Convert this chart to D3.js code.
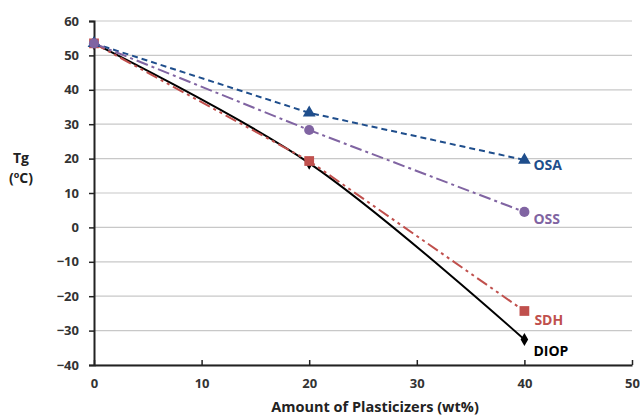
<!DOCTYPE html>
<html>
<head>
<meta charset="utf-8">
<script src="https://cdn.jsdelivr.net/npm/d3@7"></script>
<style>
  body { margin: 0; background: #fff; }
  svg text { font-family: "Open Sans", sans-serif; font-weight: 700; }
</style>
</head>
<body>
<svg id="chart"></svg>
<script>
var width = 640, height = 418

// data
var amounts = [0, 20, 40]
var osa  = [53.5, 33.3, 19.6]
var oss  = [53.5, 28.3, 4.5]
var sdh  = [53.5, 19.3, -24.3]
var diop = [53.5, 18.7, -32.6]
var xTicks = [0, 10, 20, 30, 40, 50]
var yTicks = [-40, -30, -20, -10, 0, 10, 20, 30, 40, 50, 60]

var series = [
  { name: "DIOP", values: diop, color: "#000000", dash: null, shape: d3.symbolDiamond, size: 50, smooth: true, labelColor: "#000" },
  { name: "SDH", values: sdh, color: "#c0504d", dash: "12,4,3,4,3,4", shape: d3.symbolSquare, size: 95, labelColor: "#c0504d" },
  { name: "OSA", values: osa, color: "#1f4e8c", dash: "6,4", shape: d3.symbolTriangle, size: 70, labelColor: "#1f4e8c" },
  { name: "OSS", values: oss, color: "#8064a2", dash: "12,4,3,4", shape: d3.symbolCircle, size: 80, labelColor: "#8064a2" }
]

var margin = { top: 21, left: 94, right: 8, bottom: 53 }

var svg = d3.select("#chart")
  .attr("width", width)
  .attr("height", height)

var x = d3.scaleLinear().domain([0, 50]).range([margin.left, width - margin.right])
var y = d3.scaleLinear().domain([-40, 60]).range([height - margin.bottom, margin.top])

// gridlines
svg.append("g")
  .selectAll("line")
  .data(yTicks)
  .enter().append("line")
  .attr("x1", x(0)).attr("x2", x(50))
  .attr("y1", function(d) { return y(d) }).attr("y2", function(d) { return y(d) })
  .attr("stroke", "#c8c8c8")
  .attr("stroke-width", 1.2)

// y axis
var yAxis = svg.append("g")
  .attr("transform", "translate(" + x(0) + ",0)")
  .call(d3.axisLeft(y).tickValues(yTicks).tickSize(5).tickPadding(10))
yAxis.select(".domain").attr("stroke", "#222").attr("stroke-width", 2)
yAxis.selectAll(".tick line").attr("stroke", "#222").attr("stroke-width", 1.5)
yAxis.selectAll(".tick text").attr("font-size", 13).attr("fill", "#333")

// x axis with inward ticks
var xAxis = svg.append("g")
  .attr("transform", "translate(0," + y(-40) + ")")
  .call(d3.axisBottom(x).tickValues(xTicks).tickSizeInner(-5).tickSizeOuter(0).tickPadding(14))
xAxis.select(".domain").attr("stroke", "#222").attr("stroke-width", 2)
xAxis.selectAll(".tick line").attr("stroke", "#222").attr("stroke-width", 1.5)
xAxis.selectAll(".tick text").attr("font-size", 13).attr("fill", "#333")

// lines
series.forEach(function(s) {
  var pts = amounts.map(function(a, i) { return [a, s.values[i]] })
  var line = d3.line()
    .x(function(d) { return x(d[0]) })
    .y(function(d) { return y(d[1]) })
    .curve(s.smooth ? d3.curveCatmullRom.alpha(0.5) : d3.curveLinear)
  svg.append("path")
    .datum(pts)
    .attr("d", line)
    .attr("fill", "none")
    .attr("stroke", s.color)
    .attr("stroke-width", 2)
    .attr("stroke-dasharray", s.dash)
})

// markers
series.forEach(function(s) {
  svg.append("g")
    .selectAll("path")
    .data(amounts.map(function(a, i) { return [a, s.values[i]] }))
    .enter().append("path")
    .attr("d", d3.symbol().type(s.shape).size(s.size))
    .attr("transform", function(d) { return "translate(" + x(d[0]) + "," + y(d[1]) + ")" })
    .attr("fill", s.color)
})

// series labels
var labelOffsets = { OSA: [9, 10], OSS: [9, 12], SDH: [10, 14], DIOP: [9, 16] }
series.forEach(function(s) {
  var last = s.values[s.values.length - 1]
  svg.append("text")
    .attr("x", x(40) + labelOffsets[s.name][0])
    .attr("y", y(last) + labelOffsets[s.name][1])
    .attr("font-size", 14)
    .attr("font-weight", s.name == "SDH" ? 400 : 700)
    .attr("fill", s.labelColor)
    .text(s.name)
})

// axis titles
svg.append("text")
  .attr("x", 375).attr("y", 412)
  .attr("text-anchor", "middle")
  .attr("font-size", 14.5)
  .attr("fill", "#222")
  .text("Amount of Plasticizers (wt%)")

var yt = svg.append("text")
  .attr("text-anchor", "middle")
  .attr("font-size", 14)
  .attr("fill", "#222")
yt.append("tspan").attr("x", 21).attr("y", 163).text("Tg")
var t2 = yt.append("tspan").attr("x", 21).attr("y", 183).text("(")
t2.append("tspan").attr("font-size", 9).attr("dy", -5).text("o")
t2.append("tspan").attr("dy", 5).text("C)")
</script>
</body>
</html>
